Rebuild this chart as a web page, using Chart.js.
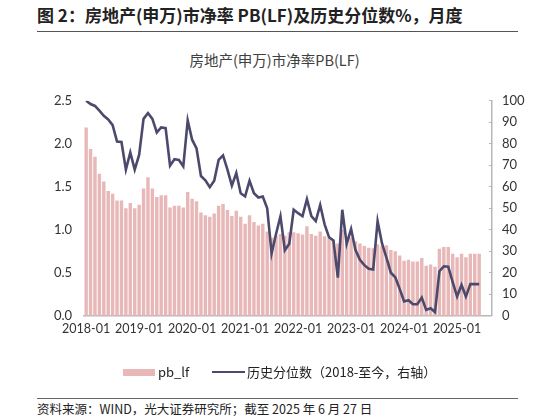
<!DOCTYPE html>
<html lang="zh-CN">
<head>
<meta charset="utf-8">
<title>房地产(申万)市净率PB(LF)</title>
<script src="https://cdn.jsdelivr.net/npm/chart.js@4.4.1/dist/chart.umd.min.js"></script>
<style>
  body { margin: 0; background: #fff; }
  #pagina { position: relative; width: 549px; height: 420px; overflow: hidden; font-family: "Noto Sans CJK SC", sans-serif; color: #222; }
  #titulo { position: absolute; left: 37px; top: 3px; font-size: 17px; line-height: 24px; font-weight: bold; white-space: nowrap; }
  #linha-topo { position: absolute; left: 37px; top: 31px; width: 481px; border-top: 1.5px solid #555; }
  #subtitulo { position: absolute; left: 0; width: 549px; top: 49px; text-align: center; padding-right: 2px; font-size: 14.5px; line-height: 22px; color: #404040; }
  #caixa-grafico { position: absolute; left: 0; top: 80px; width: 549px; height: 310px; }
  .leg { position: absolute; top: 363px; font-size: 13px; line-height: 18px; white-space: nowrap; }
  #leg-barra { position: absolute; left: 123px; top: 369px; width: 32px; height: 7px; background: #e8b8b8; }
  #leg-linha { position: absolute; left: 212px; top: 371px; width: 33px; border-top: 2.6px solid #4b4a6d; }
  #linha-fonte { position: absolute; left: 37px; top: 398px; width: 481px; border-top: 1px solid #666; }
  #fonte { position: absolute; left: 37px; top: 401px; font-size: 12.5px; line-height: 16px; white-space: nowrap; }
</style>
</head>
<body>
<div id="pagina">
  <div id="titulo">图 2：房地产(申万)市净率 PB(LF)及历史分位数%，月度</div>
  <div id="linha-topo"></div>
  <div id="subtitulo">房地产(申万)市净率PB(LF)</div>
  <div id="caixa-grafico"><canvas id="graficoPB"></canvas></div>
  <div id="leg-barra"></div>
  <div class="leg" style="left:158px">pb_lf</div>
  <div id="leg-linha"></div>
  <div class="leg" style="left:247px">历史分位数（2018-至今，右轴）</div>
  <div id="linha-fonte"></div>
  <div id="fonte">资料来源：WIND，光大证券研究所；截至 2025 年 6 月 27 日</div>
</div>
<script>
// meses: 2018-01 até 2025-06
const meses = [];
for (let ano = 2018; ano <= 2025; ano++) {
    for (let m = 1; m <= 12; m++) {
        if (ano === 2025 && m > 6) break;
        meses.push(ano + '-' + String(m).padStart(2, '0'));
    }
}

const rotulosX = ['2018-01', '2019-01', '2020-01', '2021-01', '2022-01', '2023-01', '2024-01', '2025-01'];

// PB(LF), eixo esquerdo
const pbLf = [
    2.19, 1.94, 1.85, 1.65, 1.56, 1.45, 1.42, 1.34, 1.34, 1.25, 1.31, 1.25,
    1.29, 1.48, 1.61, 1.48, 1.38, 1.40, 1.40, 1.26, 1.28, 1.28, 1.26, 1.44,
    1.36, 1.33, 1.20, 1.17, 1.15, 1.19, 1.28, 1.30, 1.23, 1.16, 1.22, 1.15,
    1.07, 1.17, 1.09, 1.05, 1.07, 0.98, 0.91, 0.93, 0.95, 0.93, 0.97, 0.97,
    0.96, 0.945, 1.04, 0.95, 0.93, 0.98, 0.925, 0.90, 0.885, 0.84, 1.00, 0.915,
    0.91, 0.865, 0.84, 0.81, 0.79, 0.785, 0.83, 0.81, 0.82, 0.765, 0.75, 0.70,
    0.64, 0.65, 0.63, 0.63, 0.67, 0.58, 0.595, 0.57, 0.78, 0.80, 0.80, 0.72,
    0.68, 0.72, 0.68, 0.72, 0.72, 0.72
];

// 历史分位数 %, eixo direito
const percentil = [
    100, 98.5, 97.6, 95.4, 93, 91.3, 88.7, 81, 80.8, 68, 76, 68,
    74.8, 91.6, 94.3, 91.6, 85.3, 87.6, 87.3, 69.8, 72.8, 72.5, 69.5, 90.9,
    81.9, 77.8, 65, 63, 59.8, 62.8, 72.5, 74.6, 68, 60.5, 66.4, 57,
    55.5, 62.8, 57, 55, 55.5, 50, 29, 38, 46.3, 30.5, 33.5, 49.3,
    47.7, 46.3, 54.2, 46.3, 44, 51.5, 42.5, 36.5, 35, 17.7, 49.3, 33.5,
    40.3, 30.5, 26, 23.5, 21.8, 21.5, 44, 33.6, 27, 20, 17.9, 12.5,
    6.6, 7.2, 5.3, 5.3, 8.4, 2.7, 3.5, 1.7, 20.7, 23, 22.8, 15.6,
    8.9, 14.3, 8.9, 14.7, 14.7, 14.7
];

const fonteNum = { family: 'Lato', size: 13 };

function criarGrafico() {
    const ctx = document.getElementById('graficoPB').getContext('2d');

    new Chart(ctx, {
        type: 'bar',
        data: {
            datasets: [
                {
                    label: 'pb_lf',
                    data: pbLf.map((v, i) => ({ x: i, y: v })),
                    backgroundColor: '#e8b8b8',
                    categoryPercentage: 1,
                    barPercentage: 0.78,
                    yAxisID: 'y',
                    order: 1
                },
                {
                    type: 'line',
                    label: '历史分位数（2018-至今，右轴）',
                    data: percentil.map((v, i) => ({ x: i, y: v })),
                    borderColor: '#4b4a6d',
                    borderWidth: 2.6,
                    pointRadius: 0,
                    tension: 0,
                    yAxisID: 'y1',
                    order: 0
                }
            ]
        },
        options: {
            responsive: true,
            maintainAspectRatio: false,
            animation: false,
            layout: { padding: { left: 42, right: 11.4, top: 12.2, bottom: 47.3 } },
            plugins: {
                legend: { display: false },
                tooltip: { enabled: false }
            },
            scales: {
                x: {
                    type: 'linear',
                    offset: false,
                    min: -0.45,
                    max: 91.9,
                    afterBuildTicks: axis => {
                        axis.ticks = rotulosX.map(r => ({ value: meses.indexOf(r) }));
                    },
                    afterFit: axis => {
                        // sem folga extra para os rótulos das pontas
                        axis.paddingLeft = 0;
                        axis.paddingRight = 0;
                    },
                    ticks: {
                        autoSkip: false,
                        maxRotation: 0,
                        padding: 6,
                        color: '#333',
                        font: { family: 'Lato', size: 12.5 },
                        callback: v => meses[v]
                    },
                    grid: { display: false, drawTicks: false, offset: false },
                    border: { color: '#b8b8b8', width: 1.5 }
                },
                y: {
                    position: 'left',
                    min: 0,
                    max: 2.5,
                    ticks: {
                        stepSize: 0.5,
                        padding: 12,
                        color: '#333',
                        font: fonteNum,
                        callback: v => v.toFixed(1)
                    },
                    grid: { display: false, drawTicks: false },
                    border: { display: false }
                },
                y1: {
                    position: 'right',
                    min: 0,
                    max: 100,
                    ticks: { stepSize: 10, padding: 13, color: '#333', font: fonteNum },
                    // tracinhos curtos para dentro do gráfico
                    grid: { display: true, drawOnChartArea: false, drawTicks: true, tickLength: -3, color: '#b8b8b8', lineWidth: 1 },
                    border: { color: '#b8b8b8', width: 1.5 }
                }
            }
        }
    });
}

criarGrafico();
</script>
</body>
</html>
